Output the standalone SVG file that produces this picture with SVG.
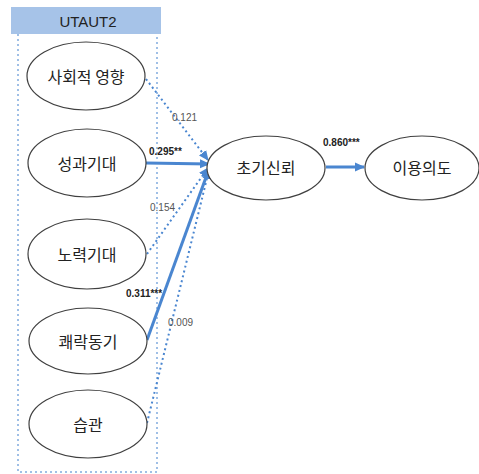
<svg xmlns="http://www.w3.org/2000/svg" width="479" height="474" viewBox="0 0 479 474">
  <defs>
    <style>
      .node { fill: #ffffff; stroke: #404040; stroke-width: 1.2; }
      .lbl { font-family: "Noto Sans CJK KR", "Noto Sans", sans-serif; font-size: 16px; fill: #222222; text-anchor: middle; dominant-baseline: central; }
      .solid { stroke: #4a86d0; stroke-width: 3; fill: none; }
      .dot { stroke: #4a86d0; stroke-width: 2; stroke-dasharray: 2 3; stroke-linecap: butt; fill: none; }
      .frame { stroke: #9fbfe6; stroke-width: 2; stroke-dasharray: 2 3; fill: none; }
      .num { font-family: "Liberation Sans", Arial, sans-serif; font-size: 10px; fill: #555555; }
      .bnum { font-family: "Liberation Sans", Arial, sans-serif; font-size: 10px; font-weight: bold; fill: #222222; }
    </style>
    <marker id="ah" markerWidth="10" markerHeight="10" refX="9" refY="5" orient="auto" markerUnits="userSpaceOnUse">
      <path d="M0,0.5 L10,5 L0,9.5 Z" fill="#4a86d0"/>
    </marker>
  </defs>

  <g id="utaut2-group">
    <rect x="11" y="7" width="150" height="27" fill="#a6c3e8"/>
    <text x="88" y="21" font-family="Liberation Sans, Arial, sans-serif" font-size="15" fill="#222222" text-anchor="middle" dominant-baseline="central">UTAUT2</text>
    <path class="frame" d="M18,34 L18,472 L157,472 L157,34"/>
  </g>

  <g id="connectors">
    <line class="dot" x1="146" y1="79" x2="208" y2="160" marker-end="url(#ah)"/>
    <line class="solid" x1="146" y1="163" x2="209" y2="164" marker-end="url(#ah)"/>
    <line class="dot" x1="147" y1="254" x2="208" y2="168" marker-end="url(#ah)"/>
    <line class="solid" x1="147" y1="340" x2="209" y2="169" marker-end="url(#ah)"/>
    <line class="dot" x1="147" y1="423" x2="209" y2="170" marker-end="url(#ah)"/>
    <line class="solid" x1="326" y1="167" x2="364" y2="167" marker-end="url(#ah)"/>
  </g>

  <g id="labels">
    <text class="num" x="172" y="121">0.121</text>
    <text class="bnum" x="149" y="155">0.295**</text>
    <text class="num" x="150" y="211">0.154</text>
    <text class="bnum" x="126" y="297">0.311***</text>
    <text class="num" x="168" y="326">0.009</text>
    <text class="bnum" x="323" y="146">0.860***</text>
  </g>

  <g id="social-influence">
    <ellipse class="node" cx="86" cy="76" rx="59" ry="34"/>
    <text class="lbl" x="86" y="76">사회적  영향</text>
  </g>
  <g id="performance-expectancy">
    <ellipse class="node" cx="87" cy="163" rx="59" ry="34"/>
    <text class="lbl" x="87" y="163">성과기대</text>
  </g>
  <g id="effort-expectancy">
    <ellipse class="node" cx="87" cy="254" rx="59" ry="35"/>
    <text class="lbl" x="87" y="254">노력기대</text>
  </g>
  <g id="hedonic-motivation">
    <ellipse class="node" cx="88" cy="341" rx="59" ry="33"/>
    <text class="lbl" x="88" y="341">쾌락동기</text>
  </g>
  <g id="habit">
    <ellipse class="node" cx="88" cy="424" rx="59" ry="34"/>
    <text class="lbl" x="88" y="424">습관</text>
  </g>
  <g id="initial-trust">
    <ellipse class="node" cx="266" cy="168" rx="59" ry="32"/>
    <text class="lbl" x="266" y="167">초기신뢰</text>
  </g>
  <g id="usage-intention">
    <ellipse class="node" cx="422" cy="168" rx="57" ry="32"/>
    <text class="lbl" x="422" y="167">이용의도</text>
  </g>
</svg>
